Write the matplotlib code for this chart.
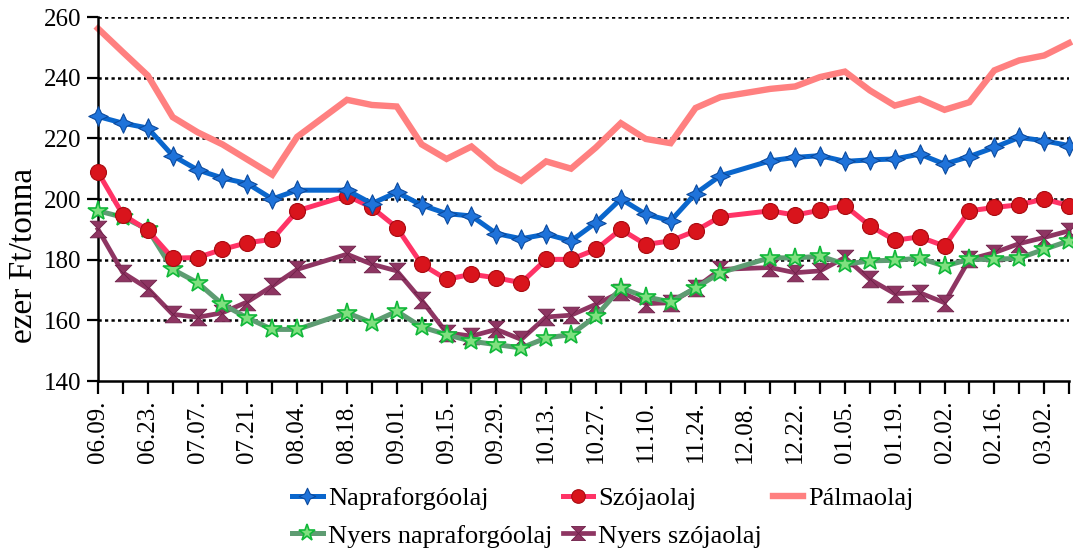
import matplotlib
matplotlib.use('Agg')
import matplotlib.pyplot as plt
import numpy as np
from matplotlib.path import Path

nan = np.nan

# weekly dates, label shown every second week
dates = ['06.09.', '06.16.', '06.23.', '06.30.', '07.07.', '07.14.', '07.21.', '07.28.',
         '08.04.', '08.11.', '08.18.', '08.25.', '09.01.', '09.08.', '09.15.', '09.22.',
         '09.29.', '10.06.', '10.13.', '10.20.', '10.27.', '11.03.', '11.10.', '11.17.',
         '11.24.', '12.01.', '12.08.', '12.15.', '12.22.', '12.29.', '01.05.', '01.12.',
         '01.19.', '01.26.', '02.02.', '02.09.', '02.16.', '02.23.', '03.02.', '03.09.']

napraforgo = [227.2, 225.0, 223.4, 214.3, 209.6, 206.9, 205.1, 200.0, 202.9, nan,
              202.9, 198.5, 202.2, 198.0, 195.2, 194.4, 188.6, 186.9, 188.4, 186.2,
              192.2, 200.0, 195.0, 192.8, 201.8, 207.7, nan, 212.6, 213.7, 214.3,
              212.4, 212.9, 213.2, 214.8, 211.5, 214.0, 217.0, 220.3, 219.2, 217.6]

szoja = [208.8, 194.8, 189.7, 180.5, 180.7, 183.4, 185.6, 186.7, 196.1, nan,
         201.1, 197.2, 190.6, 178.5, 173.5, 175.2, 174.0, 172.4, 180.1, 180.1,
         183.4, 190.0, 185.0, 186.2, 189.5, 194.2, nan, 196.1, 194.7, 196.3,
         197.8, 191.2, 186.4, 187.5, 184.5, 196.1, 197.2, 198.1, 200.0, 197.8]

palma = [256.2, 248.4, 240.7, 227.0, 222.0, 218.0, 213.0, 208.0, 220.5, nan,
         232.7, 231.0, 230.5, 218.0, 213.2, 217.3, 210.4, 206.0, 212.4, 210.0,
         217.0, 225.0, 219.8, 218.4, 230.0, 233.6, nan, 236.3, 237.1, 240.2,
         242.0, 235.8, 230.8, 233.0, 229.4, 231.9, 242.4, 245.7, 247.3, 251.4]

nyers_napraforgo = [196.1, 194.0, 190.0, 176.8, 172.4, 165.3, 160.8, 157.0, 157.0, nan,
                    162.5, 159.2, 163.0, 157.8, 155.3, 153.1, 152.0, 150.9, 154.2, 155.3,
                    161.4, 170.7, 167.7, 166.1, 170.7, 175.7, nan, 180.7, 180.5, 181.2,
                    178.5, 179.6, 179.8, 180.5, 177.9, 180.1, 180.1, 180.5, 183.4, 186.2]

nyers_szoja = [190.0, 175.7, 170.5, 162.0, 161.0, 162.5, 166.1, 171.3, 176.8, nan,
               181.8, 178.5, 176.3, 166.6, 155.9, 154.8, 157.0, 153.7, 161.1, 161.7,
               165.3, 169.3, 165.5, 165.8, 170.7, 176.8, nan, 177.4, 175.7, 176.3,
               180.7, 173.5, 168.8, 169.1, 165.8, 180.1, 182.3, 185.3, 187.3, 189.5]

plt.rcParams['font.family'] = ['Liberation Serif', 'DejaVu Serif']

# custom markers
hourglass = Path([(-1, 1), (1, 1), (-1, -1), (1, -1), (-1, 1)],
                 [Path.MOVETO, Path.LINETO, Path.LINETO, Path.LINETO, Path.CLOSEPOLY])
ang = np.deg2rad(np.arange(0, 360, 45) + 90)
rad = np.array([1, 0.45] * 4)
star4 = Path(np.column_stack([rad * np.cos(ang), rad * np.sin(ang)]).tolist() + [(0, 1)],
             closed=True)


def plot_series(ax, values, **kw):
    y = np.array(values, dtype=float)
    x = np.arange(len(y))
    m = ~np.isnan(y)
    return ax.plot(x[m], y[m], clip_on=False, **kw)[0]


fig = plt.figure(figsize=(10.73, 5.53), dpi=100)
ax = fig.add_axes([98 / 1073, 1 - 381 / 553, (1069 - 98) / 1073, (381 - 17) / 553])

h_palma = plot_series(ax, palma, color='#FF8080', lw=4.6, zorder=2, label='Pálmaolaj',
                      solid_joinstyle='miter')
h_nysz = plot_series(ax, nyers_szoja, color='#8E3562', lw=3.4, marker=hourglass, ms=12,
                     mfc='#8E3562', mec='#6E2048', mew=0.6, zorder=3, label='Nyers szójaolaj')
h_nynap = plot_series(ax, nyers_napraforgo, color='#5E9C72', lw=3.6, marker='*', ms=15,
                      mfc='#7FE07F', mec='#12B83A', mew=1.2, zorder=4,
                      label='Nyers napraforgóolaj')
h_szoja = plot_series(ax, szoja, color='#FF3366', lw=3.6, marker='o', ms=11.5,
                      mfc='#D9141C', mec='#A80A10', mew=0.8, zorder=5, label='Szójaolaj')
h_napra = plot_series(ax, napraforgo, color='#0A66CC', lw=3.6, marker=star4, ms=14,
                      mfc='#1F73DA', mec='#0B4A9E', mew=0.8, zorder=6, label='Napraforgóolaj')

ax.set_xlim(0, len(dates) - 1)
ax.set_ylim(140, 260)
ax.set_yticks(np.arange(140, 261, 20))
for yv in range(160, 261, 20):
    ax.axhline(yv, color='black', lw=1.8, ls=(0, (1.3, 1.3)), zorder=1)

ax.set_xticks(np.arange(len(dates)))
ax.set_xticklabels([d if i % 2 == 0 else '' for i, d in enumerate(dates)], rotation=90)
ax.tick_params(axis='x', length=9, width=1.6, pad=5, labelsize=18)
ax.tick_params(axis='y', length=8, width=1.6, pad=4, labelsize=18)

for s in ['top', 'right']:
    ax.spines[s].set_visible(False)
for s in ['left', 'bottom']:
    ax.spines[s].set_linewidth(1.8)

fig.text(24 / 1073, 1 - 255 / 553, 'ezer Ft/tonna', rotation=90, ha='center', va='center',
         fontsize=24)

handles = [h_napra, h_nynap, h_szoja, h_nysz, h_palma]
fig.legend(handles, [h.get_label() for h in handles], ncol=3, loc='center',
           bbox_to_anchor=(603 / 1073, 1 - 517 / 553), frameon=False, fontsize=19,
           handlelength=1.15, handletextpad=0.2, columnspacing=0.4, labelspacing=0.55,
           markerscale=0.85)

fig.savefig('out.png', dpi=100)
